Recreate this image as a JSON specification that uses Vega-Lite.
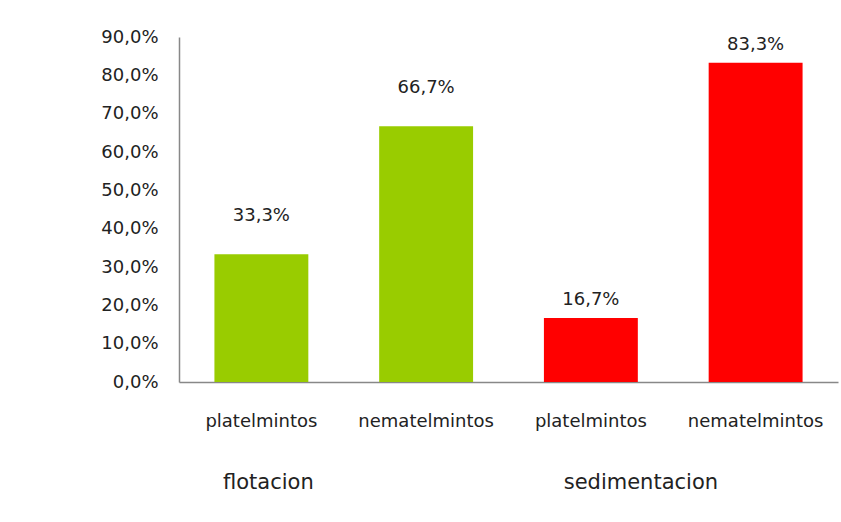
{
  "$schema": "https://vega.github.io/schema/vega-lite/v6.json",
  "width": 659,
  "height": 345,
  "autosize": {"type": "none"},
  "padding": {"left": 179, "top": 37, "right": 3, "bottom": 140},
  "background": "white",
  "config": {
    "locale": {"number": {"decimal": ",", "thousands": ".", "grouping": [3], "currency": ["", " €"]}},
    "view": {"stroke": null},
    "font": "DejaVu Sans",
    "axis": {"labelFont": "DejaVu Sans", "labelColor": "#222222", "labelFontSize": 18, "grid": false, "ticks": false, "domainColor": "#888888", "domainWidth": 1.5, "title": null}
  },
  "data": {
    "values": [
      {"serie": "flotacion platelmintos", "grupo": "flotacion", "tipo": "platelmintos", "valor": 0.333},
      {"serie": "flotacion nematelmintos", "grupo": "flotacion", "tipo": "nematelmintos", "valor": 0.667},
      {"serie": "sedimentacion platelmintos", "grupo": "sedimentacion", "tipo": "platelmintos", "valor": 0.167},
      {"serie": "sedimentacion nematelmintos", "grupo": "sedimentacion", "tipo": "nematelmintos", "valor": 0.833}
    ]
  },
  "encoding": {
    "x": {
      "field": "serie",
      "type": "nominal",
      "sort": null,
      "scale": {"paddingInner": 0.43, "paddingOuter": 0.215},
      "axis": {"labelAngle": 0, "labelExpr": "split(datum.label, ' ')[1]", "labelBaseline": "middle", "labelPadding": 39}
    },
    "y": {
      "field": "valor",
      "type": "quantitative",
      "scale": {"domain": [0, 0.9], "nice": false},
      "axis": {"format": ".1%", "values": [0, 0.1, 0.2, 0.3, 0.4, 0.5, 0.6, 0.7, 0.8, 0.9], "labelPadding": 21}
    }
  },
  "layer": [
    {
      "mark": {"type": "bar"},
      "encoding": {
        "color": {"field": "grupo", "type": "nominal", "scale": {"domain": ["flotacion", "sedimentacion"], "range": ["#99CC00", "#FF0000"]}, "legend": null}
      }
    },
    {
      "transform": [{"filter": "datum.grupo == 'flotacion'"}],
      "mark": {"type": "text", "dy": -38, "baseline": "middle", "fontSize": 18, "color": "#222222", "font": "DejaVu Sans"},
      "encoding": {"text": {"field": "valor", "type": "quantitative", "format": ".1%"}}
    },
    {
      "transform": [{"filter": "datum.grupo == 'sedimentacion'"}],
      "mark": {"type": "text", "dy": -18, "baseline": "middle", "fontSize": 18, "color": "#222222", "font": "DejaVu Sans"},
      "encoding": {"text": {"field": "valor", "type": "quantitative", "format": ".1%"}}
    },
    {
      "transform": [{"filter": "datum.grupo == 'flotacion' && datum.tipo == 'platelmintos'"}],
      "mark": {"type": "text", "dy": 101, "dx": 7, "baseline": "middle", "fontSize": 21, "color": "#222222", "font": "DejaVu Sans"},
      "encoding": {"y": {"datum": 0}, "text": {"field": "grupo"}}
    },
    {
      "transform": [{"filter": "datum.grupo == 'sedimentacion' && datum.tipo == 'platelmintos'"}],
      "mark": {"type": "text", "dy": 101, "dx": 50, "baseline": "middle", "fontSize": 21, "color": "#222222", "font": "DejaVu Sans"},
      "encoding": {"y": {"datum": 0}, "text": {"field": "grupo"}}
    }
  ]
}
